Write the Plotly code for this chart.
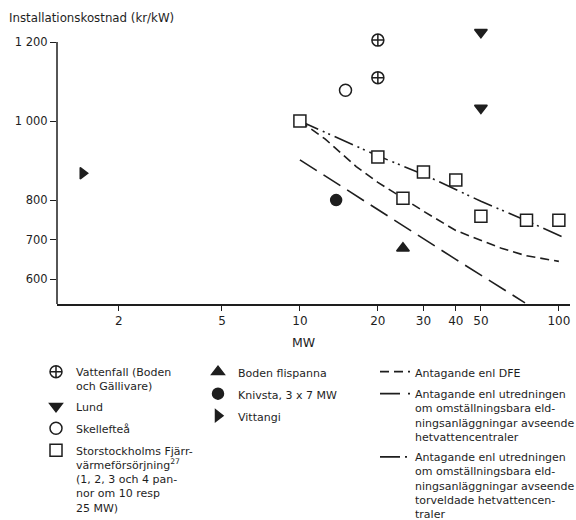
import plotly.graph_objects as go

# ---- data ----
vattenfall_x = [20, 20]
vattenfall_y = [1205, 1110]
lund_x = [50, 50]
lund_y = [1225, 1033]
skelleftea_x = [15]
skelleftea_y = [1078]
sthlm_x = [10, 20, 25, 30, 40, 50, 75, 100]
sthlm_y = [1000, 909, 805, 871, 851, 759, 749, 749]
boden_x = [25]
boden_y = [678]
knivsta_x = [13.8]
knivsta_y = [800]
vittangi_x = [1.45]
vittangi_y = [868]

dfe_x = [10, 12.5, 16.5, 20, 25, 30, 40, 50, 60, 75, 100]
dfe_y = [1000, 955, 885, 845, 805, 772, 723, 698, 678, 659, 645]
utr_x = [10, 20, 40, 74]
utr_y = [902, 775, 650, 540]
torv_x = [10, 20, 30, 50, 75, 104]
torv_y = [1000, 912, 865, 797, 748, 706]

x_tickvals = [2, 5, 10, 20, 30, 40, 50, 100]
x_ticktext = ["2", "5", "10", "20", "30", "40", "50", "100"]
y_tickvals = [600, 700, 800, 1000, 1200]
y_ticktext = ["600", "700", "800", "1 000", "1 200"]
y_axis_top = 1200

INK = "#1e1e1e"
FONT = "DejaVu Sans"

fig = go.Figure()

# ---- lines ----
fig.add_trace(go.Scatter(x=dfe_x, y=dfe_y, mode="lines",
                         line=dict(color=INK, width=1.6, dash="9px,5px"),
                         name="Antagande enl DFE", legend="legend3", legendgroup="l1"))
fig.add_trace(go.Scatter(x=utr_x, y=utr_y, mode="lines",
                         line=dict(color=INK, width=1.6, dash="20px,8px"),
                         name="Antagande enl utredningen<br>om omställningsbara eld-<br>ningsanläggningar avseende<br>hetvattencentraler",
                         legend="legend3", legendgroup="l2"))
fig.add_trace(go.Scatter(x=torv_x, y=torv_y, mode="lines",
                         line=dict(color=INK, width=1.6, dash="20px,5px,2px,4px,2px,5px"),
                         name="Antagande enl utredningen<br>om omställningsbara eld-<br>ningsanläggningar avseende<br>torveldade hetvattencen-<br>traler",
                         legend="legend3", legendgroup="l3"))

# ---- markers ----
def mk(x, y, symbol, name, legend, group, fill=INK, size=11):
    fig.add_trace(go.Scatter(
        x=x, y=y, mode="markers", name=name, legend=legend, legendgroup=group,
        cliponaxis=False,
        marker=dict(symbol=symbol, size=size, color=fill,
                    line=dict(color=INK, width=1.5))))

mk(vattenfall_x, vattenfall_y, "circle-cross", "Vattenfall (Boden<br>och Gällivare)", "legend", "a", fill="white", size=12)
mk(lund_x, lund_y, "triangle-down", "Lund", "legend", "b")
mk(skelleftea_x, skelleftea_y, "circle", "Skellefteå", "legend", "c", fill="white", size=12)
mk(sthlm_x, sthlm_y, "square", "Storstockholms Fjärr-<br>värmeförsörjning<sup>27</sup><br>(1, 2, 3 och 4 pan-<br>nor om 10 resp<br>25 MW)", "legend", "d", fill="white", size=12)
mk(boden_x, boden_y, "triangle-up", "Boden flispanna", "legend2", "e")
mk(knivsta_x, knivsta_y, "circle", "Knivsta, 3 x 7 MW", "legend2", "f")
mk(vittangi_x, vittangi_y, "triangle-right", "Vittangi", "legend2", "g", size=10)

W, H = 576, 520
ml, mr, mt, mb = 57, 6, 30, 216
pw = W - ml - mr
ph = H - mt - mb

def px2paper_x(px):
    return (px - ml) / pw

def px2paper_y(py):
    return (H - mb - py) / ph

legend_common = dict(xanchor="left", yanchor="top", bgcolor="rgba(0,0,0,0)",
                     borderwidth=0, valign="top", tracegroupgap=3,
                     traceorder="grouped",
                     font=dict(family=FONT, size=11, color=INK))

fig.update_layout(
    width=W, height=H,
    margin=dict(l=ml, r=mr, t=mt, b=mb, autoexpand=False),
    paper_bgcolor="white", plot_bgcolor="white",
    font=dict(family=FONT, color=INK, size=11.5),
    showlegend=True,
    legend=dict(x=px2paper_x(36), y=px2paper_y(358), **legend_common),
    legend2=dict(x=px2paper_x(198), y=px2paper_y(358), **legend_common),
    legend3=dict(x=px2paper_x(375), y=px2paper_y(358), **legend_common),
    xaxis=dict(type="log", range=[0.062, 2.043], showgrid=False, zeroline=False,
               showline=True, linecolor=INK, linewidth=1.5,
               ticks="outside", ticklen=5, tickwidth=1.3, tickcolor=INK,
               tickvals=x_tickvals, ticktext=x_ticktext,
               tickfont=dict(family=FONT, size=12, color=INK)),
    yaxis=dict(range=[537, 1230.6], showgrid=False, zeroline=False,
               showline=False,
               ticks="outside", ticklen=6, tickwidth=1.3, tickcolor=INK,
               tickvals=y_tickvals, ticktext=y_ticktext,
               tickfont=dict(family=FONT, size=11.5, color=INK)),
    shapes=[
        dict(type="line", xref="paper", yref="y", x0=0, x1=0,
             y0=537, y1=y_axis_top, line=dict(color=INK, width=1.5)),
    ],
    annotations=[
        dict(text="Installationskostnad (kr/kW)", xref="paper", yref="paper",
             x=px2paper_x(7), y=px2paper_y(18), xanchor="left", yanchor="middle",
             showarrow=False, font=dict(family=FONT, size=11.8, color=INK)),
        dict(text="MW", xref="paper", yref="paper",
             x=px2paper_x(303), y=px2paper_y(342), xanchor="center", yanchor="middle",
             showarrow=False, font=dict(family=FONT, size=12.5, color=INK)),
    ],
)

fig.write_html("out.html", config={"displayModeBar": False},
               post_script="document.body.style.margin='0';")
